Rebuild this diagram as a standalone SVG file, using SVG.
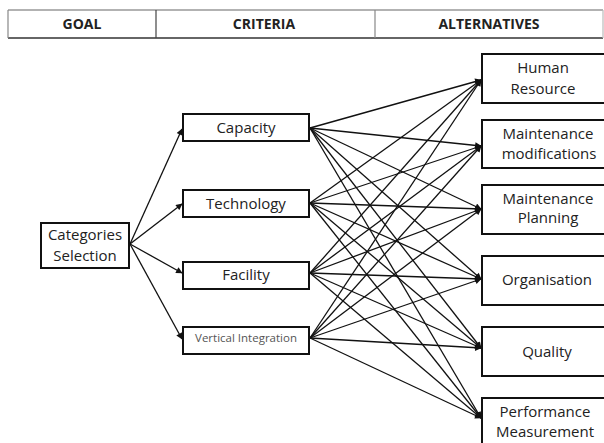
<svg xmlns="http://www.w3.org/2000/svg" width="604" height="443" viewBox="0 0 604 443">
<style>
.hdr{font-family:"Open Sans","Liberation Sans",sans-serif;font-weight:bold;font-size:14px;fill:#222;text-anchor:middle}
.box{fill:#fff;stroke:#111;stroke-width:2}
.t{font-family:"Open Sans","Liberation Sans",sans-serif;font-size:15px;fill:#222;text-anchor:middle}
.small{font-size:11.5px;fill:#555}
.c{stroke:#111;stroke-width:1.3;fill:none;marker-end:url(#ah)}
</style>
<defs>
<marker id="ah" viewBox="0 0 10 10" refX="9" refY="5" markerWidth="6" markerHeight="5" orient="auto" markerUnits="strokeWidth">
<path d="M0,0 L10,5 L0,10 Z" fill="#111"/>
</marker>
</defs>
<rect width="604" height="443" fill="#fff"/>
<g id="header">
<rect x="8" y="10" width="595" height="28" fill="#fff" stroke="none"/>
<line x1="8" y1="10" x2="603" y2="10" stroke="#999" stroke-width="1.5"/>
<line x1="8" y1="38" x2="603" y2="38" stroke="#333" stroke-width="1.5"/>
<line x1="8" y1="10" x2="8" y2="38" stroke="#888" stroke-width="1.2"/>
<line x1="603" y1="10" x2="603" y2="38" stroke="#bbb" stroke-width="1.2"/>
<line x1="156" y1="10" x2="156" y2="38" stroke="#444" stroke-width="1.2"/>
<line x1="375" y1="10" x2="375" y2="38" stroke="#888" stroke-width="1.2"/>
<text class="hdr" x="82" y="29">GOAL</text>
<text class="hdr" x="264" y="29">CRITERIA</text>
<text class="hdr" x="489" y="29">ALTERNATIVES</text>
</g>
<g id="connectors">
<path class="c" d="M130,244 L182,129"/>
<path class="c" d="M130,244 L182,204"/>
<path class="c" d="M130,244 L182,273"/>
<path class="c" d="M130,244 L182,339"/>
<path class="c" d="M310,128 L481,80"/>
<path class="c" d="M310,128 L481,146"/>
<path class="c" d="M310,128 L481,209"/>
<path class="c" d="M310,128 L481,279"/>
<path class="c" d="M310,128 L481,348"/>
<path class="c" d="M310,128 L481,418"/>
<path class="c" d="M310,203 L481,80"/>
<path class="c" d="M310,203 L481,146"/>
<path class="c" d="M310,203 L481,209"/>
<path class="c" d="M310,203 L481,279"/>
<path class="c" d="M310,203 L481,348"/>
<path class="c" d="M310,203 L481,418"/>
<path class="c" d="M310,273 L481,80"/>
<path class="c" d="M310,273 L481,146"/>
<path class="c" d="M310,273 L481,209"/>
<path class="c" d="M310,273 L481,279"/>
<path class="c" d="M310,273 L481,348"/>
<path class="c" d="M310,273 L481,418"/>
<path class="c" d="M310,338 L481,80"/>
<path class="c" d="M310,338 L481,146"/>
<path class="c" d="M310,338 L481,209"/>
<path class="c" d="M310,338 L481,279"/>
<path class="c" d="M310,338 L481,348"/>
<path class="c" d="M310,338 L481,418"/>
</g>
<g id="goal">
<rect class="box" x="41" y="223" width="88" height="45"/>
<text class="t" x="85" y="240">Categories</text>
<text class="t" x="85" y="261">Selection</text>
</g>
<g id="capacity">
<rect class="box" x="183" y="114" width="126" height="27"/>
<text class="t" x="246" y="133">Capacity</text>
</g>
<g id="technology">
<rect class="box" x="183" y="190" width="126" height="27"/>
<text class="t" x="246" y="209">Technology</text>
</g>
<g id="facility">
<rect class="box" x="183" y="262" width="126" height="27"/>
<text class="t" x="246" y="280">Facility</text>
</g>
<g id="vertical-integration">
<rect class="box" x="183" y="327" width="126" height="27"/>
<text class="t small" x="246" y="342">Vertical Integration</text>
</g>
<g id="human-resource">
<rect class="box" x="482" y="54" width="130" height="49"/>
<text class="t" x="543" y="73">Human</text>
<text class="t" x="543" y="94">Resource</text>
</g>
<g id="maintenance-modifications">
<rect class="box" x="482" y="120" width="130" height="48"/>
<text class="t" x="548" y="139">Maintenance</text>
<text class="t" x="549" y="159">modifications</text>
</g>
<g id="maintenance-planning">
<rect class="box" x="482" y="185" width="130" height="49"/>
<text class="t" x="548" y="204">Maintenance</text>
<text class="t" x="548" y="223">Planning</text>
</g>
<g id="organisation">
<rect class="box" x="482" y="256" width="130" height="49"/>
<text class="t" x="547" y="285">Organisation</text>
</g>
<g id="quality">
<rect class="box" x="482" y="327" width="130" height="49"/>
<text class="t" x="547" y="357">Quality</text>
</g>
<g id="performance-measurement">
<rect class="box" x="482" y="398" width="130" height="60"/>
<text class="t" x="545" y="417">Performance</text>
<text class="t" x="545" y="437">Measurement</text>
</g>
</svg>
